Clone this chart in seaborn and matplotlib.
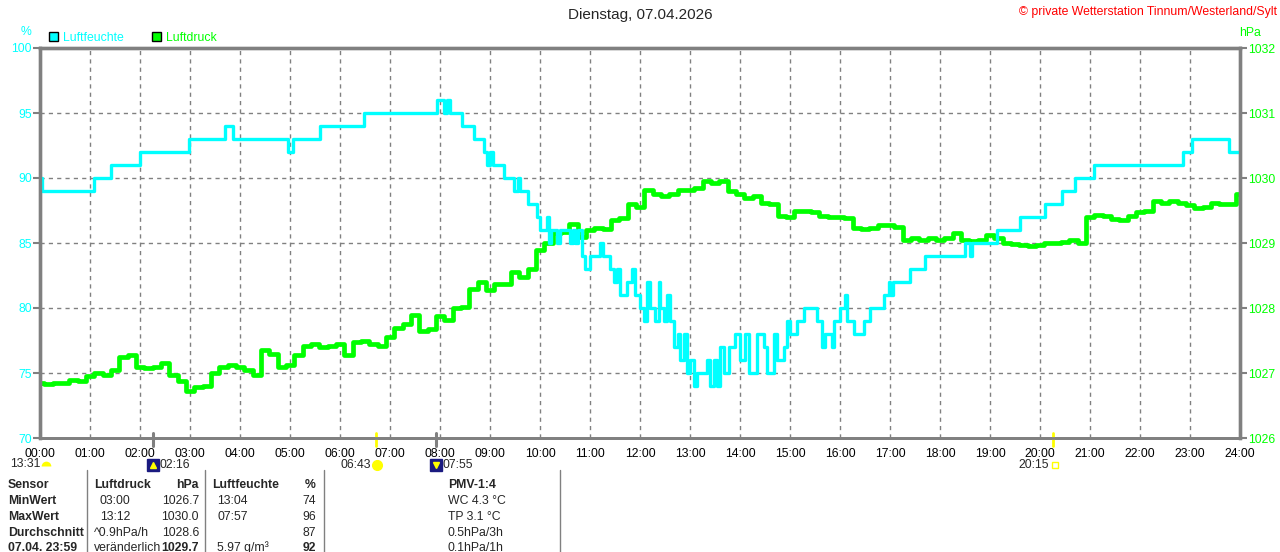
import matplotlib
matplotlib.use("Agg")
import matplotlib.pyplot as plt
from matplotlib.patches import Patch
import numpy as np
import seaborn as sns

sns.set_style("white")
plt.rcParams['font.family'] = ['Liberation Sans', 'DejaVu Sans']

CYAN = '#00FFFF'
GREEN = '#00FF00'
GREY = '#808080'

# Luftfeuchte (%) - Stufen, Zeit in Stunden
hum_t = [0.0, 0.03, 1.08, 1.41, 2.0, 2.98, 3.7, 3.86, 4.96, 5.06, 5.6, 6.47,
         7.93, 8.07, 8.14, 8.2, 8.43, 8.67, 8.88, 8.95, 9.0, 9.05, 9.27, 9.47,
         9.55, 9.6, 9.75, 9.93, 10.0, 10.13, 10.17, 10.22, 10.33, 10.4, 10.6,
         10.65, 10.7, 10.75, 10.83, 10.9, 11.0, 11.2, 11.25, 11.4, 11.47, 11.53,
         11.6, 11.73, 11.83, 11.9, 12.0, 12.07, 12.13, 12.2, 12.3, 12.37, 12.4,
         12.47, 12.53, 12.6, 12.67, 12.75, 12.8, 12.87, 12.93, 13.0, 13.07,
         13.13, 13.33, 13.4, 13.47, 13.53, 13.6, 13.67, 13.77, 13.9, 14.0, 14.1,
         14.17, 14.33, 14.47, 14.53, 14.67, 14.73, 14.87, 14.93, 15.0, 15.13,
         15.27, 15.53, 15.63, 15.7, 15.83, 15.87, 16.0, 16.1, 16.15, 16.27,
         16.47, 16.6, 16.87, 16.97, 17.0, 17.05, 17.4, 17.7, 18.5, 18.6, 18.65,
         19.13, 19.6, 20.1, 20.43, 20.7, 21.07, 22.85, 23.03, 23.77, 24.0]
hum_v = [90, 89, 90, 91, 92, 93, 94, 93, 92, 93, 94, 95,
         96, 95, 96, 95, 94, 93, 92, 91, 92, 91, 90, 89,
         90, 89, 88, 87, 86, 87, 85, 86, 85, 86, 85,
         86, 85, 86, 84, 83, 84, 85, 84, 83, 82, 83,
         81, 82, 83, 81, 80, 79, 82, 80, 79, 82, 80,
         79, 81, 79, 77, 78, 76, 78, 75, 76, 74,
         75, 76, 74, 76, 74, 77, 75, 77, 78, 76, 78,
         75, 78, 77, 75, 78, 76, 77, 79, 78, 79,
         80, 79, 77, 78, 77, 79, 80, 81, 79, 78,
         79, 80, 81, 82, 81, 82, 83, 84, 85, 84, 85,
         86, 87, 88, 89, 90, 91, 92, 93, 92, 92]

# Luftdruck (hPa) alle 10 Minuten, 00:00 - 24:00
press_v = [1026.85, 1026.83, 1026.85, 1026.84, 1026.90, 1026.88,
           1026.95, 1027.00, 1026.97, 1027.05, 1027.25, 1027.28,
           1027.10, 1027.08, 1027.10, 1027.15, 1026.97, 1026.88,
           1026.72, 1026.78, 1026.80, 1027.00, 1027.10, 1027.12,
           1027.10, 1027.05, 1026.97, 1027.35, 1027.30, 1027.10,
           1027.12, 1027.27, 1027.42, 1027.45, 1027.40, 1027.42,
           1027.45, 1027.28, 1027.48, 1027.50, 1027.45, 1027.42,
           1027.55, 1027.70, 1027.75, 1027.90, 1027.65, 1027.67,
           1027.87, 1027.82, 1028.00, 1028.02, 1028.30, 1028.40,
           1028.28, 1028.37, 1028.37, 1028.55, 1028.48, 1028.60,
           1028.90, 1029.00, 1029.15, 1029.17, 1029.30, 1029.10,
           1029.20, 1029.23, 1029.22, 1029.35, 1029.38, 1029.60,
           1029.55, 1029.82, 1029.75, 1029.72, 1029.75, 1029.82,
           1029.82, 1029.85, 1029.95, 1029.93, 1029.95, 1029.80,
           1029.75, 1029.70, 1029.72, 1029.62, 1029.60, 1029.42,
           1029.40, 1029.50, 1029.50, 1029.48, 1029.42, 1029.40,
           1029.40, 1029.38, 1029.23, 1029.22, 1029.23, 1029.27,
           1029.28, 1029.25, 1029.05, 1029.07, 1029.05, 1029.08,
           1029.05, 1029.07, 1029.15, 1029.05, 1029.03, 1029.05,
           1029.12, 1029.08, 1029.00, 1028.98, 1028.97, 1028.95,
           1028.97, 1029.00, 1029.00, 1029.02, 1029.05, 1029.00,
           1029.40, 1029.43, 1029.42, 1029.37, 1029.35, 1029.42,
           1029.47, 1029.50, 1029.64, 1029.62, 1029.64, 1029.62,
           1029.58, 1029.54, 1029.55, 1029.62, 1029.60, 1029.60,
           1029.75]
press_t = np.arange(len(press_v)) / 6.0

hour_ticks = list(range(25))
hour_labels = ['%02d:00' % h for h in hour_ticks]
hum_ticks = [70, 75, 80, 85, 90, 95, 100]
press_ticks = [1026, 1027, 1028, 1029, 1030, 1031, 1032]

# Sonne/Mond Ereignisse
moon_rise = (2 + 16 / 60, '02:16')
sun_rise = (6 + 43 / 60, '06:43')
moon_set = (7 + 55 / 60, '07:55')
sun_set = (20 + 15 / 60, '20:15')

W, H = 1280, 552
def fx(x):
    return x / W
def fy(y):
    return 1 - y / H

fig = plt.figure(figsize=(12.8, 5.52), dpi=100)
axp = fig.add_axes([fx(40), fy(438), 1200 / W, 390 / H])
sns.lineplot(x=press_t, y=press_v, ax=axp, color=GREEN, lw=3.4, estimator=None,
             drawstyle='steps-mid')
axp.set_xlim(0, 24)
axp.set_ylim(1026, 1032)

axh = axp.twinx()
sns.lineplot(x=hum_t, y=hum_v, ax=axh, color=CYAN, lw=2.4, estimator=None,
             drawstyle='steps-post')
axh.set_ylim(70, 100)
axh.yaxis.tick_left()
axp.yaxis.tick_right()
axh.set_xlim(0, 24)

axp.set_xticks(hour_ticks)
axp.set_xticklabels(hour_labels)
axp.set_yticks(press_ticks)
axp.set_yticklabels([str(v) for v in press_ticks])
axh.set_yticks(hum_ticks)
axh.set_yticklabels([str(v) for v in hum_ticks])
for a in (axp, axh):
    a.set_xlabel('')
    a.set_ylabel('')

axp.grid(True, color=GREY, linestyle=(0, (3, 3)), lw=1)
axp.set_axisbelow(True)
axp.tick_params(axis='x', colors='black', labelsize=8.8, length=3, width=1,
                pad=4, direction='out')
axp.tick_params(axis='x', color=GREY)
axp.tick_params(axis='y', labelcolor=GREEN, color=GREY, labelsize=8.8,
                length=5, width=1.5, pad=1, right=True, left=False,
                labelright=True, labelleft=False)
axh.tick_params(axis='y', labelcolor=CYAN, color=GREY, labelsize=8.8,
                length=5, width=1.5, pad=1, left=True, right=False,
                labelleft=True, labelright=False)
for a in (axp, axh):
    for s in ('left', 'right', 'top'):
        a.spines[s].set_color(GREY)
        a.spines[s].set_linewidth(2.4)
    a.spines['bottom'].set_color(GREY)
    a.spines['bottom'].set_linewidth(2)

# Markierungen an der Zeitachse
tr = axp.get_xaxis_transform()
for t, c, w in [(moon_rise[0], GREY, 2.2), (moon_set[0], GREY, 2.2),
                (sun_rise[0], '#FFFF00', 2), (sun_set[0], '#FFFF00', 2)]:
    axp.plot([t, t], [0.012, -0.02], color=c, lw=w, transform=tr,
             clip_on=False, zorder=5)

row_y = -0.068
axp.plot(0.12, row_y - 0.005, marker='o', ms=7, color='#FFFF00',
         fillstyle='top', markerfacecoloralt='none', markeredgewidth=0,
         transform=tr, clip_on=False)
fig.text(fx(10), fy(464), '13:31', fontsize=8.8, va='center', ha='left')
for t, lab, arrow in [(moon_rise[0], moon_rise[1], '^'), (moon_set[0], moon_set[1], 'v')]:
    axp.plot(t, row_y, marker='s', ms=8, color='#1A1A80', transform=tr,
             clip_on=False)
    axp.plot(t, row_y, marker=arrow, ms=4, color='#FFFF00', transform=tr,
             clip_on=False)
    axp.text(t + 0.13, row_y, lab, transform=tr, fontsize=8.8, va='center',
             ha='left')
axp.plot(sun_rise[0] + 0.03, row_y, marker='o', ms=7, color='#FFFF00',
         transform=tr, clip_on=False)
axp.text(sun_rise[0] - 0.1, row_y, sun_rise[1], transform=tr, fontsize=8.8,
         va='center', ha='right')
axp.plot(sun_set[0] + 0.05, row_y, marker='s', ms=4, color='#FFFF00',
         markerfacecolor='none', mew=1, transform=tr, clip_on=False)
axp.text(sun_set[0] - 0.07, row_y, sun_set[1], transform=tr, fontsize=8.8,
         va='center', ha='right')

# Titel und Beschriftungen
fig.text(0.5, fy(15), 'Dienstag, 07.04.2026', ha='center', va='center',
         fontsize=11)
fig.text(fx(1277), fy(12), '\u00a9 private Wetterstation Tinnum/Westerland/Sylt',
         ha='right', va='center', fontsize=8.8, color='red')
fig.text(fx(26), fy(32), '%', ha='center', va='center', fontsize=8.8, color=CYAN)
fig.text(fx(1250), fy(33), 'hPa', ha='center', va='center', fontsize=8.8,
         color=GREEN)

handles = [Patch(facecolor=CYAN, edgecolor='black', lw=1),
           Patch(facecolor=GREEN, edgecolor='black', lw=1)]
fig.legend(handles, ['Luftfeuchte', 'Luftdruck'], loc='center left',
           bbox_to_anchor=(fx(49), fy(38)), ncol=2, frameon=False,
           handlelength=0.75, handleheight=0.75, handletextpad=0.4,
           columnspacing=2.3, fontsize=8.8, labelcolor=[CYAN, GREEN],
           borderaxespad=0, borderpad=0)

# Tabelle unten
for xs in (87, 205, 324, 560):
    fig.add_artist(plt.Line2D([fx(xs), fx(xs)], [fy(470), 0], color=GREY, lw=1))

rows_y = [485, 501, 517, 533, 548]
sensor_col = ['Sensor', 'MinWert', 'MaxWert', 'Durchschnitt', '07.04. 23:59']
druck_col = ['Luftdruck', '03:00', '13:12', '^0.9hPa/h', 'veränderlich']
hpa_col = ['hPa', '1026.7', '1030.0', '1028.6', '1029.7']
feuchte_col = ['Luftfeuchte', '13:04', '07:57', '', '5.97 g/m³']
pct_col = ['%', '74', '96', '87', '92']
pmv_col = ['PMV-1:4', 'WC 4.3 °C', 'TP 3.1 °C', '0.5hPa/3h', '0.1hPa/1h']

for i, y in enumerate(rows_y):
    fig.text(fx(8), fy(y), sensor_col[i], fontsize=8.8, weight='bold', va='center')
    hdr = 'bold' if i == 0 else 'normal'
    fig.text(fx(100 if i in (1, 2) else 94), fy(y), druck_col[i],
             fontsize=8.8, weight=hdr, va='center')
    fig.text(fx(199), fy(y), hpa_col[i], fontsize=8.8, ha='right', va='center',
             weight='bold' if i in (0, 4) else 'normal')
    fig.text(fx(212 if i == 0 else 217), fy(y), feuchte_col[i],
             fontsize=8.8, weight=hdr, va='center')
    fig.text(fx(316), fy(y), pct_col[i], fontsize=8.8, ha='right', va='center',
             weight='bold' if i in (0, 4) else 'normal')
    fig.text(fx(448), fy(y), pmv_col[i], fontsize=8.8, va='center', weight=hdr)

fig.savefig('out.png', dpi=100)
